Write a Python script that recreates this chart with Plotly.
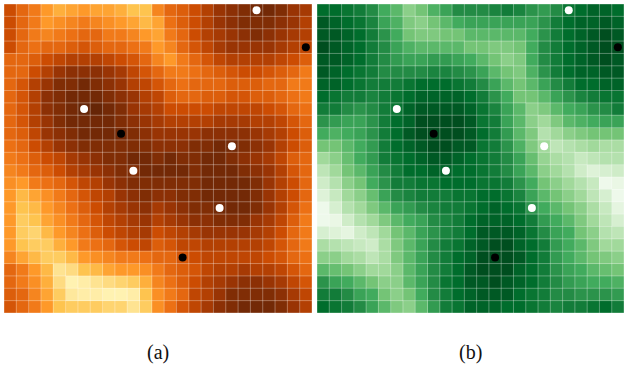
import plotly.graph_objects as go

N = 25

# Panel (a): cell values on a 0-16 scale (YlOrBr), row 0 = top
a_values = [
    [12,10.5,9.5,8,7,7.5,8,7.5,7.5,7,6,6,9,10.5,11,12,13,14,14.5,15,15.5,15.5,15,14,13.5],
    [12,10.5,9.5,8,8.5,9,9.5,9,8.5,8,7.5,6.5,7.5,10,11,12,13,14,14.5,15,15,15,14.5,14,13],
    [12,10.5,9.5,9,9.5,10,10.5,10.5,9.5,9.5,9,8,7.5,9.5,10.5,12,13,13.5,14,14.5,15,14.5,14,13.5,13],
    [12,10.5,10,10.5,10.5,11,11.5,11,10.5,10.5,10,9.5,8,9,10.5,11.5,12.5,13.5,14,14,14,14,13.5,13,12.5],
    [10.5,10.5,11,12,12.5,13,13,13,12.5,12,11.5,10.5,9,8,9.5,10.5,11.5,12.5,13,13,13,13,12.5,12,11],
    [10.5,10.5,12,13,14,14.5,14.5,14.5,14,13.5,12.5,11.5,10.5,9.5,9.5,10,10.5,11,11.5,12,12,11.5,11,10.5,9.5],
    [10.5,11.5,13,14,15,15,15.5,15,14.5,14,13,12.5,11.5,10.5,10,10.5,10.5,10.5,11,11,11,10.5,10.5,9.5,9.5],
    [10.5,11.5,13,14.5,15,15.5,15.5,15.5,15,14.5,14,13,12.5,11,10.5,10.5,11,11,11.5,11.5,11,11,10.5,10,9.5],
    [10.5,11.5,13,14.5,15,15.5,16,16,15.5,15,14,13.5,13,12,12,12,12,12.5,12.5,12.5,12.5,12,11.5,10.5,10],
    [10.5,11.5,13,14,15,15.5,15.5,15.5,15.5,15,14.5,14,13.5,13,13,13,13,13.5,13.5,13.5,13,13,12.5,11.5,10.5],
    [10.5,11,12.5,14,14.5,15,15.5,15.5,15.5,15.5,15,14.5,14,14,14,14,14.5,14.5,14.5,14.5,14,13.5,13,12,11],
    [10,10.5,12,13,14,14.5,15,15,15,15,15,15,14.5,14.5,14.5,15,15,15.5,15.5,15,14.5,14,13,12,11],
    [9.5,10,11,12,12.5,13.5,14,14.5,15,15,15.5,15.5,15,15.5,15,15,15.5,15.5,15,14.5,14,13.5,12.5,11,10.5],
    [9,9.5,10.5,11,12,13,13.5,14,14.5,15,15,15.5,15.5,15.5,15.5,15,15.5,15.5,15.5,15,14.5,14,13,11.5,10.5],
    [8.5,8,9.5,10,10.5,11.5,12.5,13,14,14.5,15,15,15,15,15,15,15.5,15.5,15.5,15.5,15,14,13,12,10.5],
    [8,6.5,7.5,8.5,9.5,10.5,11.5,12.5,13,14,14.5,15,14.5,14.5,15,15,15.5,15.5,15.5,15.5,15,14,13,12,10.5],
    [8,6,6.5,8,9,10,11,12,13,13.5,14,14.5,13.5,14,14.5,15,15,15.5,15.5,15.5,15,14,13,11.5,10],
    [8,5.5,6,7.5,8.5,9.5,10.5,11.5,12.5,13,13.5,14,13,13.5,14,14.5,14.5,15,15,15,14,13.5,12.5,11,9.5],
    [8,5.5,5,6.5,8,9,10,11,12,12.5,13,13.5,12,12.5,13,13.5,14,14,14,14,13.5,13,12,10.5,9.5],
    [8,6,5.5,5.5,7,8,9.5,10,10.5,11.5,12,12.5,11,11.5,12.5,12.5,13,13,13,13,13,12.5,11.5,10.5,9.5],
    [9,7.5,6.5,5.5,5.5,6.5,8,8.5,9,9.5,9.5,10,10.5,10.5,11.5,12,12.5,12.5,12.5,12.5,12.5,12,11.5,10.5,10],
    [10.5,9.5,8,6.5,4,4.5,6,6.5,7.5,8,8,8.5,9.5,10.5,11,11.5,12.5,13,13,13.5,13,13,12.5,11.5,10.5],
    [10.5,9.5,8.5,7,4.5,2.5,3,4,4.5,5,5.5,7,9,10,11,12,13,13.5,14,14.5,14.5,14,13.5,12.5,11.5],
    [11,10.5,9,7.5,5.5,3.5,3,3,2.5,2.5,3,6,8.5,9.5,10.5,12.5,13,14,15,15,15,15,14.5,13.5,12.5],
    [11.5,10.5,9.5,8,6,5.5,5.5,5.5,5,5,4,5.5,8.5,10,11.5,12.5,13.5,14.5,15,15.5,15.5,15.5,15,14,13],
]

# Panel (b): cell values on a 0-16 scale (Greens), row 0 = top
b_values = [
    [14,14,13.5,13,12,10,9,7,8,9.5,10.5,12,12,12,12.5,13,12.5,11.5,11,12,13.5,14,14.5,14.5,14],
    [15,14.5,14,13.5,12.5,10.5,9.5,7.5,7,8,9,10,10.5,10.5,10.5,10.5,10.5,10.5,11.5,13,14,14.5,14.5,15,14.5],
    [15,15,14.5,14,13,11.5,10,8,7.5,7.5,8,8,9,9,9,9,9,10,11.5,13,14,14.5,15,15.5,15],
    [15.5,15,14.5,14,13,12,10.5,9.5,9,9,9,9,8,8,7.5,7.5,8,10,12,13,14,14.5,15,15.5,15.5],
    [15,15,14.5,14,13,12,11,10.5,10.5,11,11,10.5,10,9,8,7,7.5,10,12,13,14,14.5,15,15.5,15],
    [15,14.5,14,13.5,13,12,12,12,12,12.5,12.5,12,11.5,10.5,9,8,7.5,9.5,11.5,13,14,14.5,14.5,15,15],
    [14.5,14.5,14,13.5,13,13,13,13.5,14,14,14,13.5,13,12,10.5,9,8,9,10.5,12,13,14,14,14.5,14.5],
    [14,13.5,13,13,12.5,13,13.5,14,14.5,14.5,14.5,14.5,14,13,11.5,10,8,8,9,10.5,11.5,12.5,13,13.5,13.5],
    [13,13,12,11.5,12,13,13.5,14.5,15,15,15,15,14.5,13.5,12.5,10.5,9,7,7.5,9,10,10.5,11.5,12,13],
    [11.5,11,10.5,10.5,11.5,13,14,14.5,15.5,15.5,15.5,15.5,15,13.5,13,10.5,9,7,6,7.5,9,9.5,10,10.5,10.5],
    [10,9.5,10,10.5,11.5,13,14,15,15.5,15.5,15.5,15.5,15,14,13,11,9,7.5,5,6,7,7.5,8,8,8],
    [8,8,9,10,11,13,14,14.5,15,15.5,15.5,15,15,13.5,13,11.5,9.5,7.5,6,4.5,5,5.5,6,5.5,5.5],
    [6,7,8.5,10,11,13,13.5,14,14.5,15,15,14.5,14,13.5,13,12,10.5,8.5,6.5,5.5,5,4,4.5,5,5],
    [4.5,6,8,9,10.5,12,13,14,14,14.5,14.5,14,14,13.5,13,12,10.5,9,7,6,5,3.5,2.5,3,3.5],
    [3.5,5,7,8,10,11.5,13,13,13.5,13.5,14,14,14,13.5,13.5,13,11.5,10,8,7,6,5,4,1,1.5],
    [2.5,4,6,7,8.5,10.5,12,12.5,13,13,13,13.5,13.5,14,14,13.5,12.5,10.5,9,8,7,6,4.5,3,1],
    [1,3,5,6,7.5,9,10.5,11,12,12.5,13,13,13.5,14,14.5,14,13.5,11.5,10,9,8,7,5.5,4,2],
    [1,1.5,3.5,5,6,7.5,9,10,10.5,12,12.5,13,14,14.5,14.5,14.5,14,13,11,10,9,7.5,6,4.5,3],
    [3,2.5,2,3.5,4.5,6,8,9,10.5,11.5,12.5,13,14,15,15,15,14.5,13.5,12,10.5,10,8,7,5,4.5],
    [5.5,5,4.5,4,3.5,5.5,7.5,9,10.5,12,13,13.5,14.5,15,15.5,15.5,14.5,14,13,11,10,9,7.5,6,6],
    [7,7,6,5.5,4.5,5.5,7.5,9,10.5,12,13,14,14.5,15.5,15.5,15.5,15,14,13,11,10,9,8,7.5,7],
    [9,8.5,8,7,6,6,7,9,10.5,12,13,14,15,15.5,15.5,15.5,14.5,14,13,11.5,10.5,10,9,8.5,8],
    [11.5,10.5,10,9,8,7,7,9,10.5,12,13.5,14,15,15,15.5,15,14.5,14,13,12,11,10.5,10,10,9.5],
    [13,13,12,10.5,10,8,7,8,10,12,13,14,14.5,15,15,15,14,13.5,13,12,12,11.5,11.5,11.5,11],
    [14,13.5,13,12,10.5,9,7.5,7,9,11,13,13.5,14.5,14.5,14.5,14,14,13.5,13,12.5,13,13,13.5,14,13],
]

# Marked cells (column, row), same in both panels
white_cols = [20, 6, 18, 10, 17]
white_rows = [0, 8, 11, 13, 16]
black_cols = [24, 9, 14]
black_rows = [3, 10, 20]

panel_labels = ["(a)", "(b)"]

YLORBR = ["#ffffe5", "#fff7bc", "#fee391", "#fec44f", "#fe9929",
          "#ec7014", "#cc4c02", "#993404", "#662506"]
GREENS = ["#f7fcf5", "#e5f5e0", "#c7e9c0", "#a1d99b", "#74c476",
          "#41ab5d", "#238b45", "#006d2c", "#00441b"]


def scale(cols):
    return [[i / (len(cols) - 1), c] for i, c in enumerate(cols)]


W, H = 630, 368
x_domains = [[4 / W, 312 / W], [317 / W, 624 / W]]
y_domain = [1 - 313 / H, 1 - 4 / H]

fig = go.Figure()

# grid line path
gx, gy = [], []
for k in range(N + 1):
    p = k - 0.5
    gx += [p, p, None]
    gy += [-0.5, N - 0.5, None]
    gx += [-0.5, N - 0.5, None]
    gy += [p, p, None]

for i, (z, cs) in enumerate([(a_values, YLORBR), (b_values, GREENS)]):
    xa = "x" if i == 0 else "x2"
    ya = "y" if i == 0 else "y2"
    fig.add_trace(go.Heatmap(z=z, colorscale=scale(cs), zmin=0, zmax=16,
                             showscale=False, xaxis=xa, yaxis=ya,
                             hoverinfo="skip"))
    fig.add_trace(go.Scatter(x=gx, y=gy, mode="lines", xaxis=xa, yaxis=ya,
                             line=dict(color="rgba(255,255,255,0.33)", width=1),
                             hoverinfo="skip", showlegend=False))
    fig.add_trace(go.Scatter(x=white_cols, y=white_rows, mode="markers",
                             xaxis=xa, yaxis=ya,
                             marker=dict(color="white", size=8, line=dict(width=0)),
                             hoverinfo="skip", showlegend=False))
    fig.add_trace(go.Scatter(x=black_cols, y=black_rows, mode="markers",
                             xaxis=xa, yaxis=ya,
                             marker=dict(color="black", size=8, line=dict(width=0)),
                             hoverinfo="skip", showlegend=False))

axis_common = dict(showgrid=False, zeroline=False, showticklabels=False,
                   ticks="", showline=False, fixedrange=True)
fig.update_layout(
    width=W, height=H,
    margin=dict(l=0, r=0, t=0, b=0),
    paper_bgcolor="white", plot_bgcolor="white",
    showlegend=False,
    xaxis=dict(domain=x_domains[0], range=[-0.5, N - 0.5], **axis_common),
    yaxis=dict(domain=y_domain, range=[N - 0.5, -0.5], **axis_common),
    xaxis2=dict(domain=x_domains[1], range=[-0.5, N - 0.5], anchor="y2", **axis_common),
    yaxis2=dict(domain=y_domain, range=[N - 0.5, -0.5], anchor="x2", **axis_common),
)

for i, lab in enumerate(panel_labels):
    cx = (x_domains[i][0] + x_domains[i][1]) / 2
    fig.add_annotation(text=lab, x=cx, y=1 - 352 / H, xref="paper", yref="paper",
                       showarrow=False, xanchor="center", yanchor="middle",
                       font=dict(family="Liberation Serif, Times New Roman, serif",
                                 size=20, color="#111111"))

fig.write_html("out.html",
               config={"displayModeBar": False, "staticPlot": True},
               post_script="document.body.style.margin='0px';"
                           "document.body.style.overflow='hidden';")
